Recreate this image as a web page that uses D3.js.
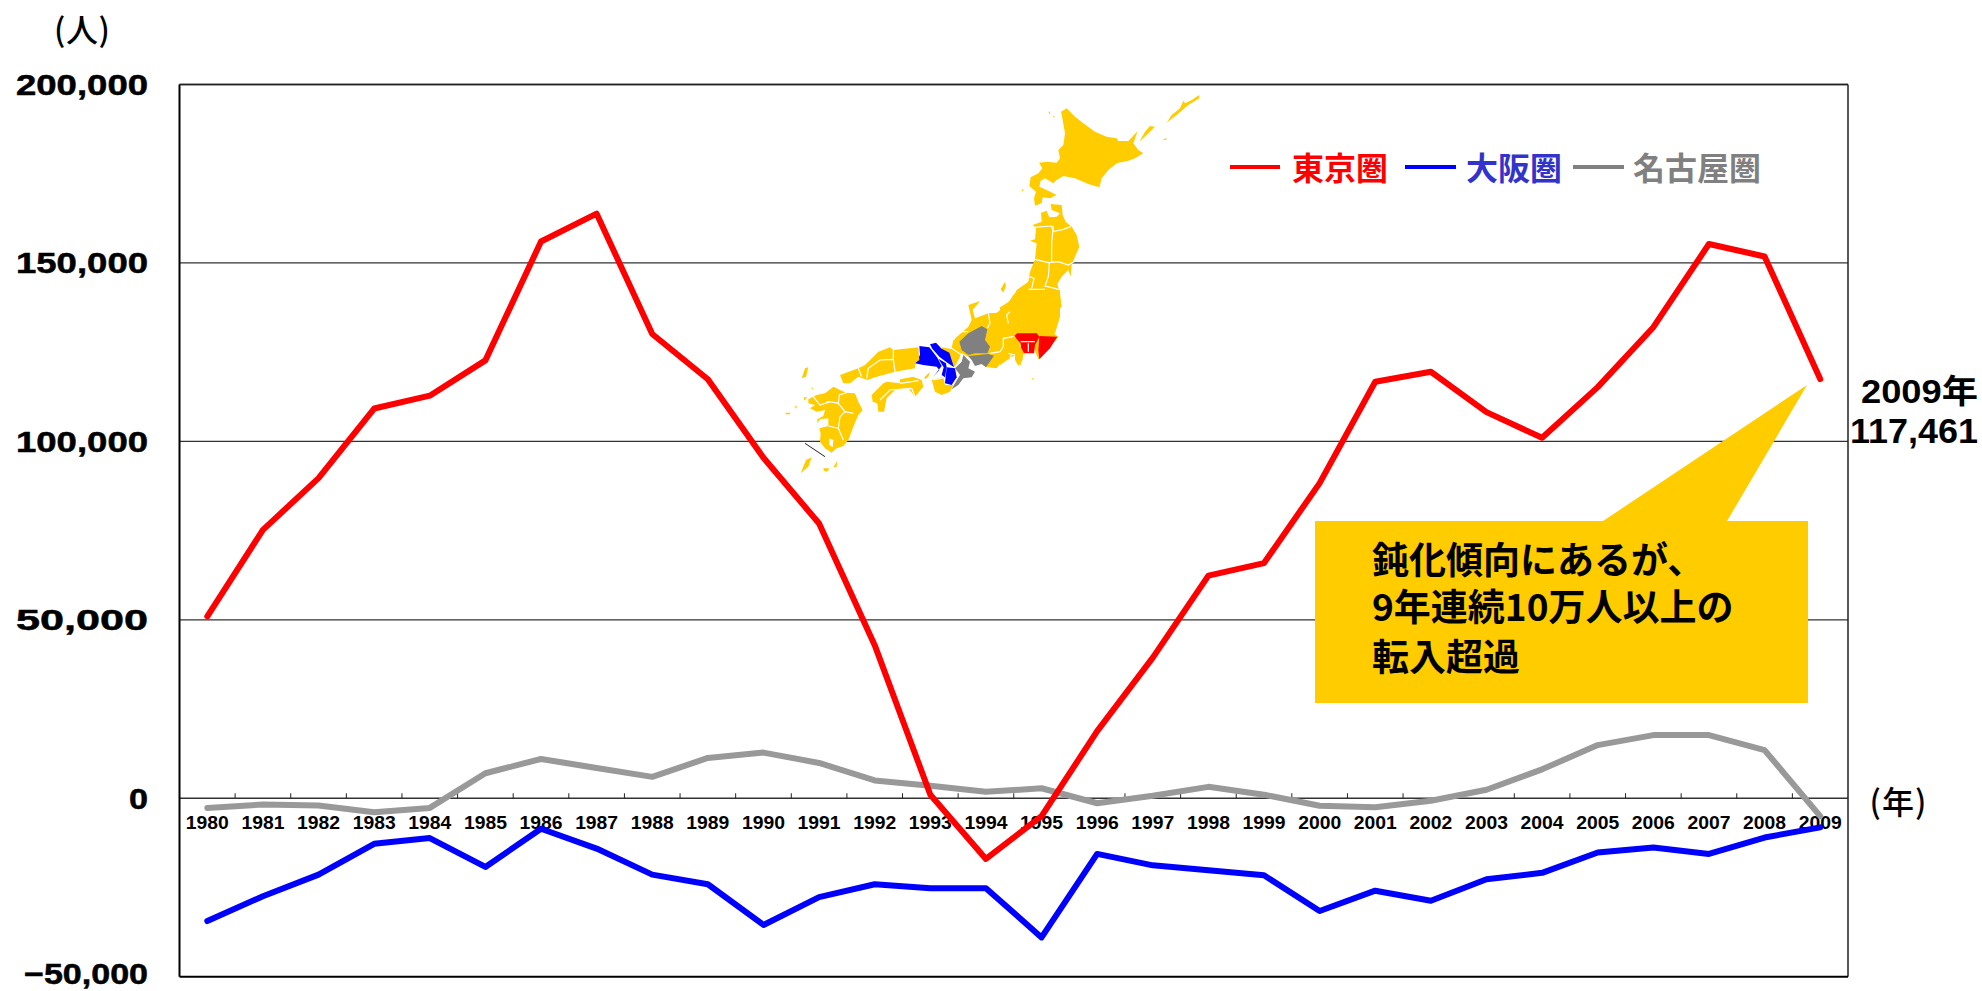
<!DOCTYPE html>
<html lang="ja">
<head>
<meta charset="utf-8">
<script src="https://cdn.jsdelivr.net/npm/d3@7"></script>
<style>
  html, body { margin: 0; padding: 0; background: #fff; }
  text { font-family: "Liberation Sans", "Noto Sans CJK JP", sans-serif; font-weight: bold; }
  .jp { font-family: "Noto Sans CJK JP", sans-serif; }
</style>
</head>
<body>
<div id="chart"></div>
<script>
const years = d3.range(1980, 2010);
const tokyo = [51000, 75200, 89700, 109200, 112800, 122700, 156000, 163800, 130100, 117400,
  95400, 77000, 42900, 1000, -17000, -5000, 18800, 39400, 62400, 65900,
  88300, 116700, 119500, 108200, 101000, 115200, 132000, 155300, 151800, 117461];
const osaka = [-34400, -27450, -21400, -12750, -11150, -19250, -8550, -14100, -21400, -24100,
  -35500, -27700, -24100, -25200, -25200, -39000, -15600, -18800, -20200, -21600,
  -31600, -25900, -28700, -22700, -20900, -15200, -13800, -15600, -11000, -8150];
const nagoya = [-2700, -1760, -2040, -3900, -2700, 7000, 11000, 8500, 6000, 11300,
  12800, 9900, 5000, 3500, 1800, 2800, -1400, 700, 3200, 1000,
  -2100, -2500, -700, 2400, 8100, 14900, 17700, 17700, 13500, -5000];
const yTicks = [-50000, 0, 50000, 100000, 150000, 200000];
const calloutLines = ["鈍化傾向にあるが、", "9年連続10万人以上の", "転入超過"];
const legendNames = ["東京圏", "大阪圏", "名古屋圏"];

// map of Japan, traced by hand. four pieces, each at 3x with its own origin
const mapNorth = {
  origin: [1000, 90],
  yellow: [
    [[183,65],[200,55],[225,80],[250,100],[285,125],[320,140],[350,145],[355,153],[385,153],[413,123],[400,160],[415,180],[430,190],[405,205],[385,212],[350,220],[325,240],[305,265],[298,292],[265,282],[225,265],[190,258],[170,270],[160,280],[135,265],[122,272],[118,290],[140,300],[170,315],[150,325],[128,322],[125,340],[105,347],[102,325],[108,305],[88,288],[92,262],[115,250],[127,235],[117,218],[140,215],[170,218],[180,205],[175,180],[190,165],[195,130],[188,90]],
    [[418,155],[435,125],[450,108],[465,110],[445,130]],
    [[500,98],[515,75],[540,55],[550,32],[555,40],[575,30],[598,15],[598,25],[565,45],[530,75]],
    [[488,150],[500,143],[498,150]],
    [[145,65],[150,65],[150,75]],
    [[158,78],[165,78],[160,82]],
    [[65,300],[72,297],[68,305]]
  ]
};
const mapEast = {
  origin: [1000, 200],
  yellow: [
    [[98,75],[125,65],[123,38],[140,32],[148,52],[170,50],[180,40],[155,30],[152,12],[185,15],[188,45],[197,65],[215,80],[230,105],[238,140],[225,170],[215,195],[212,230],[205,210],[185,230],[172,252],[180,280],[185,320],[170,335],[165,370],[155,395],[175,410],[155,435],[130,460],[115,478],[100,440],[70,450],[68,480],[55,497],[45,480],[45,465],[30,475],[0,495],[0,322],[35,300],[50,270],[85,245],[90,215],[105,178],[110,130],[90,122],[105,118],[108,85]],
    [[2,268],[15,245],[18,258],[10,278]]
  ],
  borders: [
    [[100,82],[155,78],[160,95],[190,88],[212,80]],
    [[160,78],[155,130],[155,185]],
    [[105,178],[145,188],[175,185],[205,195],[222,185]],
    [[148,188],[145,230],[135,258],[165,265],[180,270]],
    [[85,268],[135,268]],
    [[88,230],[102,235],[95,265],[65,305],[70,335],[115,318],[135,330],[165,335]],
    [[135,330],[135,380]],
    [[75,340],[80,375],[105,385],[135,375]],
    [[70,335],[35,350],[20,380],[45,400]],
    [[0,345],[20,335],[35,350]],
    [[10,415],[15,445],[40,450],[62,440],[40,410],[12,418]],
    [[40,450],[30,475]]
  ],
  red: [
    [[42,408],[65,388],[105,392],[118,410],[105,435],[102,460],[65,460],[62,430]],
    [[118,408],[172,410],[150,445],[118,478],[115,450]]
  ],
  redGaps: [
    [[62,425],[105,425]],
    [[85,430],[85,455]]
  ]
};
const mapCentral = {
  origin: [900, 290],
  yellow: [
    [[205,45],[240,33],[218,60],[225,85],[265,70],[290,68],[320,45],[340,15],[358,0],[480,0],[480,80],[465,130],[340,130],[375,195],[365,190],[362,228],[348,195],[325,190],[290,235],[262,232],[185,190],[165,230],[145,215],[128,185],[125,170],[155,175],[160,150],[205,110],[215,90]],
    [[95,270],[130,260],[135,285],[160,285],[150,305],[125,315],[105,305]],
    [[395,265],[402,265],[400,270]]
  ],
  borders: [
    [[160,150],[178,125],[205,125]],
    [[265,70],[270,100],[262,115]],
    [[270,190],[300,185],[310,170],[310,145],[340,140]],
    [[325,190],[345,195]],
    [[325,100],[320,75],[330,65]],
    [[125,170],[155,175],[185,195]],
    [[100,270],[135,262]]
  ],
  gray: [
    [[178,155],[205,130],[245,108],[262,118],[255,150],[270,170],[262,190],[225,190],[205,195],[185,180]],
    [[205,198],[265,192],[282,197],[258,232],[245,222],[225,228],[215,210]],
    [[190,195],[210,215],[205,235],[225,245],[215,262],[190,265],[175,285],[155,298],[165,280],[180,255],[165,235],[185,215]]
  ],
  blue: [
    [[58,168],[88,172],[112,203],[125,228],[100,260],[118,240],[110,230],[70,225],[45,220],[60,195]],
    [[90,163],[108,158],[125,176],[148,188],[162,232],[142,218],[118,200],[97,176]],
    [[115,206],[138,220],[140,232],[135,262],[125,255],[131,232]],
    [[140,232],[165,235],[170,262],[155,285],[135,280]]
  ]
};
const mapWest = {
  origin: [780, 340],
  yellow: [
    [[180,105],[235,85],[255,75],[295,35],[330,22],[340,30],[415,22],[418,60],[405,70],[405,85],[345,95],[290,110],[262,120],[235,110],[210,130],[190,130]],
    [[433,112],[450,95],[445,110],[435,118]],
    [[275,165],[310,130],[320,125],[360,130],[360,118],[400,110],[425,120],[430,140],[405,170],[385,145],[345,150],[320,175],[312,215],[295,215],[292,190],[278,185]],
    [[85,178],[110,165],[135,160],[160,140],[180,150],[200,158],[225,160],[235,185],[248,210],[235,225],[220,260],[205,300],[190,318],[170,325],[155,338],[135,325],[120,305],[122,280],[118,265],[145,258],[145,235],[120,238],[112,250],[112,238],[130,228],[135,210],[110,215],[90,205],[105,195],[85,190]],
    [[65,115],[75,85],[85,82],[78,110]],
    [[18,218],[30,218],[30,223],[15,223]],
    [[72,172],[82,172],[72,182]],
    [[62,400],[78,360],[95,352],[85,380]],
    [[130,385],[148,385],[142,395],[132,392]],
    [[160,382],[172,362],[170,380]],
    [[42,200],[50,198],[50,205]],
    [[95,140],[100,148],[95,148]]
  ],
  borders: [
    [[235,85],[245,110]],
    [[260,115],[265,85],[300,60],[340,58],[345,95]],
    [[340,58],[340,30]],
    [[300,180],[330,150],[395,145],[405,170]],
    [[360,130],[415,122]],
    [[138,188],[150,185],[175,190],[195,215],[220,220]],
    [[195,215],[180,230],[175,265],[145,258]],
    [[175,265],[190,300]],
    [[175,190],[178,165],[200,158]],
    [[100,170],[120,195],[150,185]]
  ],
  bay: [[148,295],[160,300],[158,322],[148,315]],
  pointer: [[75,310],[135,350]]
};

const width = 1982;
const height = 991;
const left = 179.5;
const right = 1848;
const top_ = 84.5;
const bottom = 976.7;

const svg = d3.select("#chart").append("svg")
  .attr("width", width)
  .attr("height", height)
  .style("display", "block");

const x = d3.scaleBand().domain(years).range([left, right]);
const y = d3.scaleLinear().domain([-50000, 200000]).range([bottom, top_]);

// horizontal grid
svg.append("g")
  .selectAll("line")
  .data(yTicks.filter(d => d > -50000))
  .join("line")
  .attr("x1", left)
  .attr("x2", right)
  .attr("y1", d => y(d))
  .attr("y2", d => y(d))
  .attr("stroke", "#333")
  .attr("stroke-width", 1.3);

// frame
svg.append("line").attr("x1", left).attr("x2", left).attr("y1", top_).attr("y2", bottom).attr("stroke", "#000").attr("stroke-width", 2);
svg.append("line").attr("x1", right).attr("x2", right).attr("y1", top_).attr("y2", bottom).attr("stroke", "#222").attr("stroke-width", 1.5);
svg.append("line").attr("x1", left).attr("x2", right).attr("y1", bottom).attr("y2", bottom).attr("stroke", "#000").attr("stroke-width", 2);
svg.append("line").attr("x1", left).attr("x2", right).attr("y1", top_).attr("y2", top_).attr("stroke", "#222").attr("stroke-width", 1.6);

// year axis sits on the zero line, ticks point up
svg.append("g")
  .selectAll("line")
  .data(years.slice(1))
  .join("line")
  .attr("x1", d => x(d))
  .attr("x2", d => x(d))
  .attr("y1", y(0))
  .attr("y2", y(0) - 5)
  .attr("stroke", "#222");

svg.append("g")
  .selectAll("text")
  .data(years)
  .join("text")
  .attr("x", d => x(d) + x.bandwidth() / 2)
  .attr("y", 828.5)
  .attr("text-anchor", "middle")
  .attr("font-size", 17.5)
  .attr("textLength", 43)
  .attr("lengthAdjust", "spacingAndGlyphs")
  .text(d => d);

// y labels, the lowest one nudged up so it stays inside the page
svg.append("g")
  .selectAll("text")
  .data(yTicks)
  .join("text")
  .attr("x", 148)
  .attr("y", d => d === -50000 ? y(d) - 3 : y(d))
  .attr("dy", "0.36em")
  .attr("text-anchor", "end")
  .attr("font-size", 29)
  .attr("stroke", "#000")
  .attr("stroke-width", 0.5)
  .attr("textLength", d => d === 0 ? 19 : (d === -50000 ? 124 : 132))
  .attr("lengthAdjust", "spacingAndGlyphs")
  .text(d => d3.format(",")(d));

svg.append("text").attr("class", "jp")
  .attr("x", 82).attr("y", 42).attr("text-anchor", "middle")
  .attr("font-size", 32).style("font-weight", 500)
  .attr("textLength", 56).attr("lengthAdjust", "spacing")
  .text("(人)");

svg.append("text").attr("class", "jp")
  .attr("x", 1898).attr("y", 814).attr("text-anchor", "middle")
  .attr("font-size", 32).style("font-weight", 500)
  .attr("textLength", 57).attr("lengthAdjust", "spacing")
  .text("(年)");

// map
const mapShape = d3.line().curve(d3.curveLinearClosed);
const mapStroke = d3.line();
const mapPieces = [mapNorth, mapEast, mapCentral, mapWest];
const mapGroups = mapPieces.map(p => svg.append("g")
  .attr("transform", `translate(${p.origin}) scale(${1 / 3})`));

function drawShapes(key, fill) {
  mapPieces.forEach((p, i) => {
    if (!p[key]) return;
    mapGroups[i].append("g")
      .selectAll("path")
      .data(p[key])
      .join("path")
      .attr("d", mapShape)
      .attr("fill", fill);
  });
}
function drawBorders(key) {
  mapPieces.forEach((p, i) => {
    if (!p[key]) return;
    mapGroups[i].append("g")
      .selectAll("path")
      .data(p[key])
      .join("path")
      .attr("d", mapStroke)
      .attr("fill", "none")
      .attr("stroke", "#fff")
      .attr("stroke-width", 3.5);
  });
}
drawShapes("yellow", "#FFCC00");
drawBorders("borders");
drawShapes("gray", "#808080");
drawShapes("blue", "#0000FF");
drawShapes("red", "#FF0000");
drawBorders("redGaps");
mapGroups[3].append("path").attr("d", mapShape(mapWest.bay)).attr("fill", "#fff");
mapGroups[3].append("path").attr("d", mapStroke(mapWest.pointer)).attr("stroke", "#222").attr("stroke-width", 3).attr("fill", "none");

// callout box
svg.append("path")
  .attr("d", "M1315,521H1603L1807,385L1727,521H1808V703H1315Z")
  .attr("fill", "#FFCC00");

svg.append("g")
  .selectAll("text")
  .data(calloutLines)
  .join("text")
  .attr("class", "jp")
  .attr("x", 1372)
  .attr("y", (d, i) => [574, 621, 671][i])
  .attr("font-size", 37)
  .text(d => d);

// series
const line = d3.line()
  .x((d, i) => x(years[i]) + x.bandwidth() / 2)
  .y(d => y(d));

[[nagoya, "#999999"], [osaka, "#0000FF"], [tokyo, "#FF0000"]].forEach(([values, color]) => {
  svg.append("path")
    .datum(values)
    .attr("d", line)
    .attr("fill", "none")
    .attr("stroke", color)
    .attr("stroke-width", 6)
    .attr("stroke-linejoin", "round")
    .attr("stroke-linecap", "round");
});

// last value label
svg.append("text").attr("x", 1978).attr("y", 403).attr("text-anchor", "end").attr("font-size", 33)
  .attr("textLength", 117).attr("lengthAdjust", "spacingAndGlyphs").text(years[29] + "年");
svg.append("text").attr("x", 1978).attr("y", 443).attr("text-anchor", "end").attr("font-size", 35)
  .attr("textLength", 128).attr("lengthAdjust", "spacingAndGlyphs").text(d3.format(",")(tokyo[29]));

// legend
const legendLine = [[1230, 1280], [1405, 1456], [1573, 1624]];
const legendText = [1292, 1466, 1633];
const legendStroke = ["#FF0000", "#0000FF", "#808080"];
const legendFill = ["#FF0000", "#3333CC", "#808080"];
legendNames.forEach((name, i) => {
  svg.append("line")
    .attr("x1", legendLine[i][0]).attr("x2", legendLine[i][1])
    .attr("y1", 167).attr("y2", 167)
    .attr("stroke", legendStroke[i]).attr("stroke-width", 4);
  svg.append("text").attr("class", "jp")
    .attr("x", legendText[i]).attr("y", 180)
    .attr("font-size", 32)
    .attr("fill", legendFill[i])
    .text(name);
});
</script>
</body>
</html>
